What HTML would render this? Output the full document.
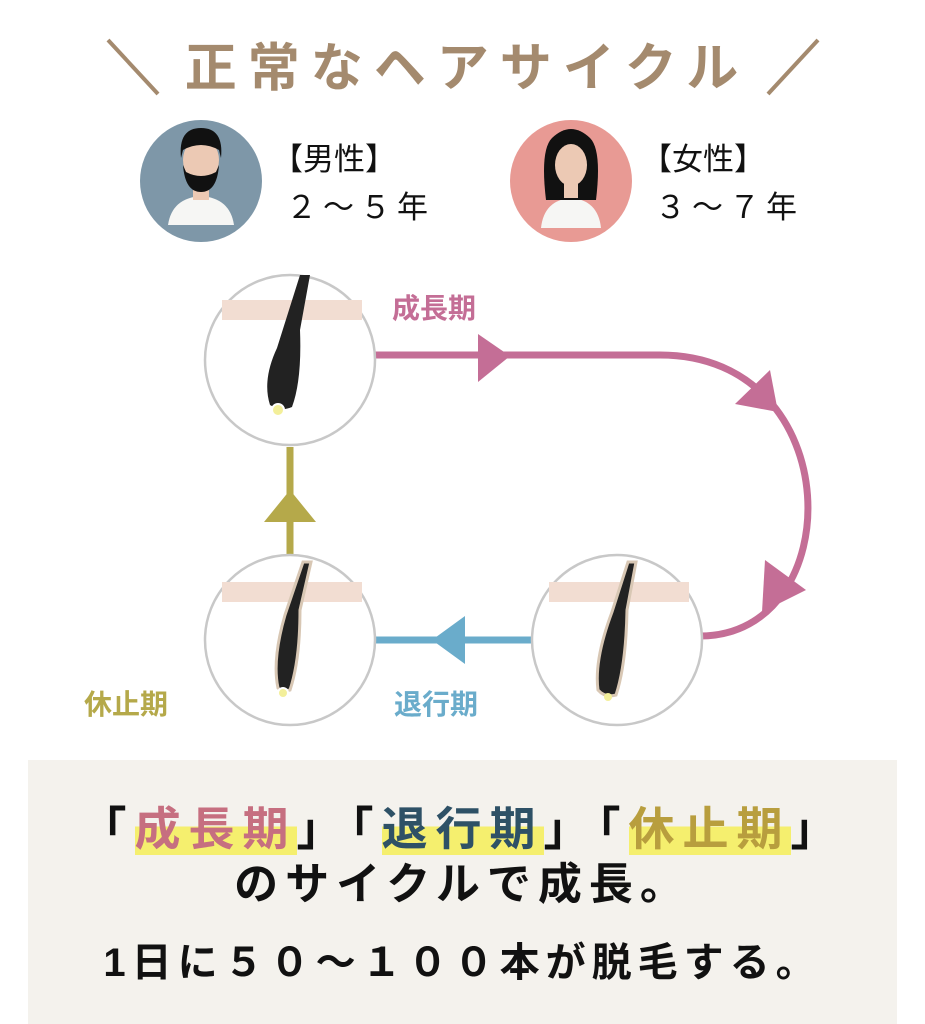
<!DOCTYPE html>
<html><head><meta charset="utf-8"><style>
html,body{margin:0;padding:0;background:#fff;}
svg{display:block;position:absolute;left:0;top:0;}
text{font-family:"Liberation Sans","Noto Sans CJK JP",sans-serif;}
.t{position:absolute;left:0;width:925px;text-align:center;font-family:"Liberation Sans","Noto Sans CJK JP",sans-serif;font-weight:bold;color:#111;white-space:nowrap;line-height:1;}
.h{background:linear-gradient(transparent 45%,#f5ef6e 45%);}
</style></head><body>
<svg width="925" height="1024" viewBox="0 0 925 1024" xmlns="http://www.w3.org/2000/svg">
<rect width="925" height="1024" fill="#fff"/>
<line x1="108" y1="40" x2="158" y2="94" stroke="#a48a6e" stroke-width="4"/>
<line x1="818" y1="40" x2="768" y2="94" stroke="#a48a6e" stroke-width="4"/>
<text x="467" y="86" font-size="52" font-weight="bold" fill="#a48a6e" text-anchor="middle" letter-spacing="11">正常なヘアサイクル</text>
<circle cx="201" cy="181" r="61" fill="#7e97a8"/>
<path d="M168 225 Q172 198 201 196 Q230 198 234 225 Z" fill="#f6f6f4"/>
<rect x="193" y="178" width="16" height="22" fill="#ecc9b4"/>
<ellipse cx="201" cy="160" rx="18" ry="22" fill="#ecc9b4"/>
<path d="M181 158 Q178 128 201 128 Q224 128 221 158 L219 150 Q201 140 183 150 Z" fill="#111"/>
<path d="M183 165 Q185 192 201 192 Q217 192 219 165 L216 172 Q201 180 186 172 Z" fill="#111"/>
<text x="272" y="170" font-size="31" fill="#111">【男性】</text>
<text x="286" y="218" font-size="31" fill="#111" letter-spacing="6">２～５年</text>
<circle cx="571" cy="181" r="61" fill="#e89a94"/>
<path d="M541 228 Q544 200 571 198 Q598 200 601 228 Z" fill="#f6f6f4"/>
<path d="M546 200 Q540 150 552 138 Q571 120 590 138 Q602 150 596 200 Z" fill="#111"/>
<ellipse cx="571" cy="165" rx="16" ry="21" fill="#ecc9b4"/>
<rect x="564" y="180" width="14" height="18" fill="#ecc9b4"/>
<text x="641" y="170" font-size="31" fill="#111">【女性】</text>
<text x="655" y="218" font-size="31" fill="#111" letter-spacing="6">３～７年</text>
<path d="M373 355 L660 355 C850 355 850 636 700 636" fill="none" stroke="#c46e96" stroke-width="7"/>
<polygon points="478,334 478,382 510,356" fill="#c46e96"/>
<polygon points="770,370 735,404 778,412" fill="#c46e96"/>
<polygon points="765,560 762,612 806,590" fill="#c46e96"/>
<text x="392" y="318" font-size="28" font-weight="bold" fill="#c46e96">成長期</text>
<line x1="375" y1="640" x2="533" y2="640" stroke="#6aaccb" stroke-width="7"/>
<polygon points="465,616 465,664 432,640" fill="#6aaccb"/>
<text x="394" y="714" font-size="28" font-weight="bold" fill="#6aaccb">退行期</text>
<line x1="290" y1="555" x2="290" y2="447" stroke="#b5a94a" stroke-width="7"/>
<polygon points="264,522 316,522 290,490" fill="#b5a94a"/>
<text x="84" y="714" font-size="28" font-weight="bold" fill="#b5a94a">休止期</text>
<g>
<circle cx="290" cy="360" r="85" fill="#fff" stroke="#c8c8c8" stroke-width="2.5"/>
<rect x="222" y="300" width="140" height="20" fill="#f2ddd2"/>
<path d="M300 275 L310 275 L300 330 Q302 380 292 407 Q281 412 270 405 Q262 380 277 348 Z" fill="#222"/>
<circle cx="278" cy="410" r="6" fill="#f3ef9a" stroke="#fff" stroke-width="2"/>
</g>
<g>
<circle cx="290" cy="640" r="85" fill="#fff" stroke="#c8c8c8" stroke-width="2.5"/>
<rect x="222" y="582" width="140" height="20" fill="#f2ddd2"/>
<path d="M303 562 L311 562 L300 610 Q300 660 290 690 Q282 692 278 688 Q272 660 285 615 Z" fill="#222" stroke="#d8c7b4" stroke-width="3"/>
<circle cx="283" cy="693" r="5" fill="#f3ef9a" stroke="#fff" stroke-width="2"/>
</g>
<g>
<circle cx="617" cy="640" r="85" fill="#fff" stroke="#c8c8c8" stroke-width="2.5"/>
<rect x="549" y="582" width="140" height="20" fill="#f2ddd2"/>
<path d="M628 562 L636 562 L627 610 Q626 665 616 695 Q605 698 598 690 Q594 660 612 612 Z" fill="#222" stroke="#d8c7b4" stroke-width="3"/>
<circle cx="608" cy="697" r="4" fill="#f3ef9a"/>
</g>
<rect x="28" y="760" width="869" height="264" fill="#f4f2ed"/>
</svg>
<div class="t" style="top:806px;font-size:46px;letter-spacing:8px;">「<span class="h" style="color:#c66f80">成長期</span>」「<span class="h" style="color:#2e5166">退行期</span>」「<span class="h" style="color:#b89e3e">休止期</span>」</div>
<div class="t" style="top:863px;font-size:44px;letter-spacing:7px;">のサイクルで成長。</div>
<div class="t" style="top:943px;font-size:40px;letter-spacing:6px;">1日に５０～１００本が脱毛する。</div>
</body></html>
